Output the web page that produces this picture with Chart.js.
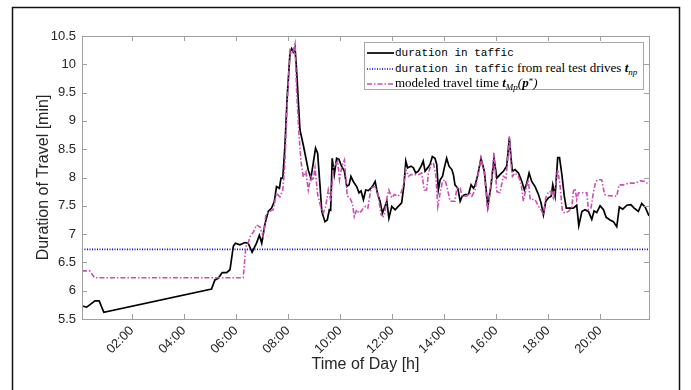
<!DOCTYPE html>
<html>
<head>
<meta charset="utf-8">
<script src="https://cdn.jsdelivr.net/npm/chart.js@4/dist/chart.umd.min.js"></script>
<style>
  html, body { margin: 0; padding: 0; background: #fff; }
  #wrap { position: relative; width: 691px; height: 390px; }
  #legend {
    position: absolute; left: 364px; top: 42px; width: 280px; height: 48px;
    box-sizing: border-box; border: 1px solid #a8a8a8; background: #fff;
    font-family: "Liberation Serif", serif; font-size: 13px; color: #000;
  }
  #legend .row { position: absolute; left: 2px; height: 15px; line-height: 15px; white-space: nowrap; }
  #legend svg { vertical-align: middle; margin-right: 1px; }
  #legend .mono { font-family: "Liberation Mono", monospace; font-size: 11px; }
  #legend sub { font-size: 9px; vertical-align: -3px; line-height: 0; }
  #legend sup { font-size: 9px; vertical-align: 3px; line-height: 0; }
</style>
</head>
<body>
<div id="wrap">
  <canvas id="chart" width="691" height="390"></canvas>
  <div id="legend">
    <div class="row" style="top:1px">
      <svg width="27" height="10"><line x1="0" y1="5" x2="27" y2="5" stroke="#000" stroke-width="1.7"/></svg><span class="mono">duration in taffic</span>
    </div>
    <div class="row" style="top:17px">
      <svg width="27" height="10"><line x1="0" y1="5" x2="27" y2="5" stroke="#0000ff" stroke-width="1.6" stroke-dasharray="1 1.5"/></svg><span class="mono">duration in taffic</span> from real test drives <b><i>t</i></b><sub><i>np</i></sub>
    </div>
    <div class="row" style="top:32px">
      <svg width="27" height="10"><line x1="0" y1="5" x2="27" y2="5" stroke="#cc4db3" stroke-width="1.6" stroke-dasharray="5 2 1.5 2"/></svg>modeled travel time <b><i>t</i></b><sub><i>Mp</i></sub><i>(</i><b><i>p</i></b><sup>*</sup><i>)</i>
    </div>
  </div>
</div>
<script>
// time of day in hours, duration in minutes
const hourTicks = [2, 4, 6, 8, 10, 12, 14, 16, 18, 20];
const minTicks = [5.5, 6, 6.5, 7, 7.5, 8, 8.5, 9, 9.5, 10, 10.5];
const xMin = 0.08;
const xMax = 21.88;

const trafficHours = [0.08, 0.26, 0.58, 0.74, 0.92, 5.06, 5.19, 5.32, 5.47, 5.64, 5.77, 5.90, 5.98, 6.15, 6.35, 6.47, 6.62, 6.79, 6.90, 6.99,
  7.05, 7.12, 7.24, 7.37, 7.47, 7.56, 7.67, 7.73, 7.80, 7.88, 7.97, 8.08, 8.14, 8.20, 8.27, 8.33, 8.46, 8.59, 8.69, 8.78,
  8.88, 8.97, 9.06, 9.14, 9.23, 9.30, 9.42, 9.51, 9.59, 9.64, 9.70, 9.78, 9.87, 9.96, 10.06, 10.17, 10.26, 10.35, 10.42, 10.51,
  10.64, 10.73, 10.81, 10.90, 10.99, 11.09, 11.19, 11.28, 11.35, 11.45, 11.54, 11.63, 11.73, 11.80, 11.88, 11.99, 12.12, 12.24, 12.37, 12.46,
  12.53, 12.60, 12.73, 12.82, 12.91, 13.01, 13.12, 13.20, 13.27, 13.37, 13.46, 13.55, 13.65, 13.72, 13.78, 13.85, 13.94, 14.01, 14.10, 14.19,
  14.30, 14.36, 14.42, 14.53, 14.62, 14.70, 14.81, 14.94, 15.04, 15.13, 15.19, 15.30, 15.42, 15.55, 15.68, 15.81, 15.92, 16.03, 16.15, 16.28,
  16.41, 16.51, 16.58, 16.63, 16.73, 16.86, 16.99, 17.09, 17.18, 17.27, 17.37, 17.50, 17.63, 17.73, 17.82, 17.91, 18.01, 18.12, 18.18, 18.27,
  18.37, 18.44, 18.53, 18.62, 18.70, 18.82, 18.97, 19.10, 19.18, 19.30, 19.42, 19.55, 19.68, 19.77, 19.87, 20.00, 20.13, 20.23, 20.38, 20.51,
  20.64, 20.74, 20.87, 21.03, 21.18, 21.31, 21.47, 21.60, 21.73, 21.88];
const trafficMinutes = [5.73, 5.71, 5.82, 5.82, 5.62, 6.03, 6.19, 6.22, 6.32, 6.32, 6.37, 6.79, 6.84, 6.81, 6.85, 6.84, 6.68, 6.84, 6.98, 6.84,
  7.01, 7.19, 7.40, 7.46, 7.57, 7.84, 7.81, 7.99, 7.99, 8.54, 9.43, 10.22, 10.28, 10.22, 10.30, 9.90, 8.84, 8.57, 8.34, 8.13,
  7.99, 8.25, 8.52, 8.43, 7.86, 7.40, 7.22, 7.25, 7.43, 7.42, 8.34, 8.05, 8.34, 8.32, 8.20, 8.11, 7.84, 7.87, 8.02, 7.93,
  7.84, 7.73, 7.76, 7.61, 7.78, 7.77, 7.81, 7.87, 7.93, 7.70, 7.58, 7.37, 7.49, 7.58, 7.28, 7.49, 7.43, 7.49, 7.55, 7.87,
  8.29, 8.17, 8.20, 8.17, 8.08, 8.11, 8.20, 8.29, 8.11, 8.17, 8.23, 8.37, 8.34, 8.23, 7.78, 7.96, 8.02, 8.17, 8.34, 8.20,
  8.14, 8.05, 7.87, 7.81, 7.58, 7.67, 7.70, 7.70, 7.87, 7.81, 7.86, 8.05, 8.34, 8.11, 7.49, 7.87, 8.34, 7.99, 8.05, 8.11,
  8.20, 8.70, 8.32, 8.11, 8.14, 8.08, 7.93, 7.78, 7.90, 8.08, 7.93, 7.84, 7.70, 7.55, 7.34, 7.58, 7.64, 7.67, 7.87, 7.67,
  8.35, 8.35, 8.05, 7.68, 7.46, 7.46, 7.46, 7.51, 7.15, 7.40, 7.43, 7.40, 7.26, 7.41, 7.38, 7.50, 7.43, 7.30, 7.25, 7.22,
  7.13, 7.48, 7.44, 7.51, 7.52, 7.46, 7.40, 7.54, 7.48, 7.32];

const testDriveLevel = 6.73;

const modelHours = [0.08, 0.38, 0.56, 6.28, 6.38, 6.47, 6.54, 6.67, 6.79, 6.92, 7.05, 7.15, 7.28, 7.43, 7.56, 7.69, 7.80, 7.88, 7.97, 8.08,
  8.18, 8.27, 8.33, 8.42, 8.50, 8.59, 8.69, 8.78, 8.88, 8.97, 9.04, 9.14, 9.27, 9.36, 9.45, 9.55, 9.65, 9.74, 9.83, 9.91,
  9.98, 10.07, 10.17, 10.28, 10.38, 10.47, 10.55, 10.64, 10.73, 10.81, 10.90, 10.99, 11.07, 11.19, 11.32, 11.41, 11.47, 11.58, 11.67, 11.73,
  11.80, 11.88, 11.99, 12.09, 12.22, 12.35, 12.44, 12.53, 12.63, 12.73, 12.88, 13.01, 13.14, 13.24, 13.33, 13.40, 13.50, 13.59, 13.68, 13.76,
  13.85, 13.94, 14.04, 14.14, 14.23, 14.42, 14.49, 14.62, 14.70, 14.87, 14.98, 15.07, 15.19, 15.32, 15.42, 15.55, 15.68, 15.81, 15.92, 16.03,
  16.15, 16.28, 16.38, 16.45, 16.51, 16.58, 16.63, 16.73, 16.86, 16.96, 17.05, 17.14, 17.24, 17.31, 17.50, 17.63, 17.73, 17.82, 17.91, 18.01,
  18.12, 18.20, 18.30, 18.37, 18.46, 18.55, 18.65, 18.78, 18.91, 18.97, 19.04, 19.10, 19.17, 19.49, 19.55, 19.65, 19.74, 19.83, 19.93, 20.06,
  20.17, 20.32, 20.64, 20.73, 20.90, 21.09, 21.35, 21.54, 21.73, 21.88];
const modelMinutes = [6.35, 6.35, 6.23, 6.23, 6.78, 6.84, 6.95, 7.04, 7.16, 7.13, 6.95, 7.34, 7.40, 7.43, 7.72, 7.66, 7.78, 8.25, 9.31, 10.25,
  10.19, 10.36, 9.55, 8.78, 8.28, 8.01, 8.10, 7.78, 8.02, 7.95, 8.17, 7.70, 7.46, 7.37, 7.49, 7.78, 7.58, 8.17, 8.23, 8.29,
  7.96, 8.20, 8.31, 7.67, 7.64, 7.55, 7.31, 7.43, 7.37, 7.40, 7.46, 7.49, 7.46, 7.81, 7.84, 7.81, 7.67, 7.34, 7.31, 7.40,
  7.64, 7.78, 7.64, 7.70, 7.67, 7.73, 7.87, 8.14, 8.02, 8.05, 8.05, 8.05, 8.08, 7.78, 7.78, 8.08, 8.23, 8.26, 8.05, 7.49,
  7.73, 7.93, 7.96, 7.78, 7.58, 7.58, 7.81, 7.81, 7.67, 7.67, 7.73, 7.67, 7.78, 8.08, 8.34, 8.08, 7.40, 7.90, 8.43, 7.75,
  7.73, 8.02, 7.99, 8.34, 8.73, 8.23, 8.02, 8.08, 8.02, 7.90, 7.58, 7.78, 7.96, 7.61, 7.61, 7.49, 7.43, 7.34, 7.64, 7.75,
  7.75, 7.64, 7.90, 8.14, 7.87, 7.40, 7.37, 7.40, 7.46, 7.75, 7.81, 7.61, 7.73, 7.73, 7.43, 7.46, 7.73, 7.93, 7.96, 7.96,
  7.70, 7.68, 7.67, 7.87, 7.87, 7.90, 7.90, 7.94, 7.93, 7.87];

const axisColor = '#a0a0a0';
const textColor = '#262626';

// MATLAB-like box with inward ticks plus the outer figure frame
const boxPlugin = {
  id: 'box',
  afterDraw(chart) {
    const { ctx, chartArea: a, scales } = chart;
    ctx.save();
    ctx.strokeStyle = axisColor;
    ctx.lineWidth = 1;
    ctx.strokeRect(Math.round(a.left) + 0.5, Math.round(a.top) + 0.5,
      Math.round(a.right - a.left), Math.round(a.bottom - a.top));
    ctx.beginPath();
    hourTicks.forEach(h => {
      const x = Math.round(scales.x.getPixelForValue(h)) + 0.5;
      ctx.moveTo(x, a.bottom); ctx.lineTo(x, a.bottom - 5);
      ctx.moveTo(x, a.top); ctx.lineTo(x, a.top + 5);
    });
    minTicks.forEach(v => {
      const y = Math.round(scales.y.getPixelForValue(v)) + 0.5;
      ctx.moveTo(a.left, y); ctx.lineTo(a.left + 5, y);
      ctx.moveTo(a.right, y); ctx.lineTo(a.right - 5, y);
    });
    ctx.stroke();

    ctx.strokeStyle = '#111';
    ctx.lineWidth = 1.5;
    ctx.beginPath();
    ctx.moveTo(12.5, 390);
    ctx.lineTo(12.5, 7.5);
    ctx.lineTo(679.5, 7.5);
    ctx.lineTo(679.5, 390);
    ctx.stroke();
    ctx.restore();
  }
};

const toPoints = (xs, ys) => xs.map((x, i) => ({ x, y: ys[i] }));

new Chart(document.getElementById('chart'), {
  type: 'line',
  data: {
    datasets: [
      {
        label: 'modeled travel time',
        data: toPoints(modelHours, modelMinutes),
        borderColor: '#cc4db3',
        borderWidth: 1.6,
        borderDash: [5, 2, 1.5, 2],
        order: 0
      },
      {
        label: 'duration in taffic',
        data: toPoints(trafficHours, trafficMinutes),
        borderColor: '#000',
        borderWidth: 1.7,
        order: 1
      },
      {
        label: 'duration in taffic from real test drives',
        data: toPoints([xMin, xMax], [testDriveLevel, testDriveLevel]),
        borderColor: '#0000ff',
        borderWidth: 1.6,
        borderDash: [1, 1.5],
        order: 2
      }
    ]
  },
  options: {
    responsive: false,
    animation: false,
    events: [],
    elements: { point: { radius: 0 }, line: { tension: 0 } },
    layout: { padding: { left: 34, right: 42, top: 36, bottom: 16 } },
    plugins: { legend: { display: false }, tooltip: { enabled: false } },
    scales: {
      x: {
        type: 'linear',
        min: xMin,
        max: xMax,
        afterBuildTicks: s => { s.ticks = hourTicks.map(value => ({ value })); },
        afterFit: s => { s.height = 55; s.paddingLeft = 0; s.paddingRight = 0; },
        grid: { display: false, drawTicks: false },
        border: { display: false },
        ticks: {
          minRotation: 45,
          maxRotation: 45,
          padding: 4,
          color: textColor,
          font: { family: 'Liberation Sans', size: 13 },
          callback: v => String(v).padStart(2, '0') + ':00'
        },
        title: {
          display: true,
          text: 'Time of Day [h]',
          color: textColor,
          padding: 0,
          font: { family: 'Liberation Sans', size: 16 }
        }
      },
      y: {
        min: 5.5,
        max: 10.5,
        afterBuildTicks: s => { s.ticks = minTicks.map(value => ({ value })); },
        afterFit: s => { s.width = 48; s.paddingTop = 0; s.paddingBottom = 0; },
        grid: { display: false, drawTicks: false },
        border: { display: false },
        ticks: {
          padding: 6,
          color: textColor,
          font: { family: 'Liberation Sans', size: 13 },
          callback: v => String(v)
        },
        title: {
          display: true,
          text: 'Duration of Travel [min]',
          color: textColor,
          padding: 0,
          font: { family: 'Liberation Sans', size: 16 }
        }
      }
    }
  },
  plugins: [boxPlugin]
});
</script>
</body>
</html>
